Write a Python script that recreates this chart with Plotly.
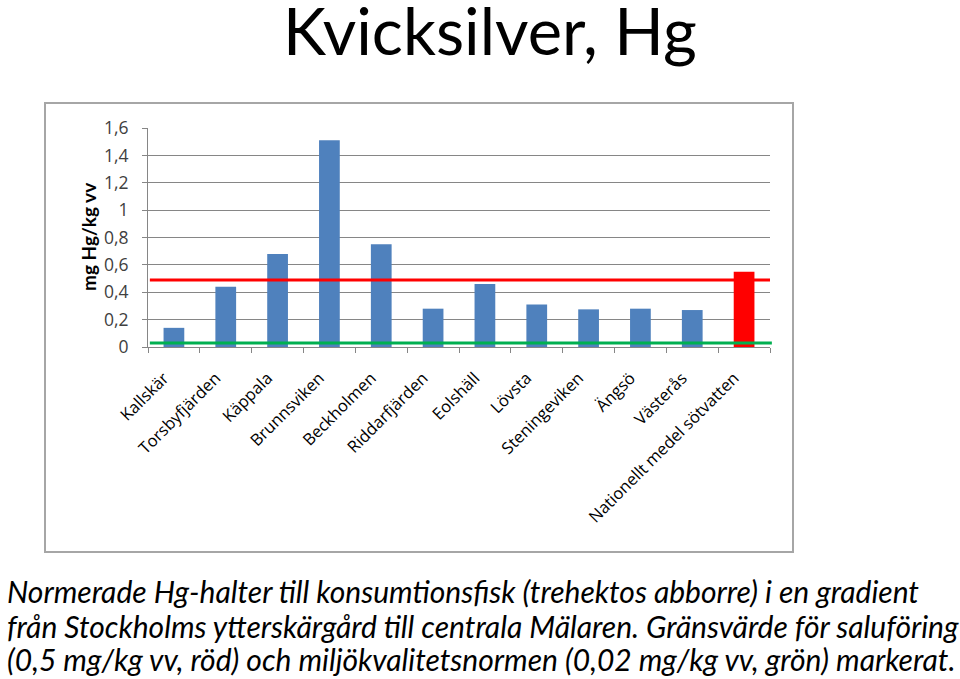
import plotly.graph_objects as go

categories = ["Kallskär", "Torsbyfjärden", "Käppala", "Brunnsviken", "Beckholmen",
              "Riddarfjärden", "Eolshäll", "Lövsta", "Steningeviken", "Ängsö",
              "Västerås", "Nationellt medel sötvatten"]
values = [0.14, 0.44, 0.68, 1.51, 0.75, 0.28, 0.46, 0.31, 0.275, 0.28, 0.27, 0.55]
bar_colors = ["#4F81BD"] * 11 + ["#FF0000"]
limit_red = 0.49
limit_green = 0.03
y_ticks = [0, 0.2, 0.4, 0.6, 0.8, 1.0, 1.2, 1.4, 1.6]

title_text = "Kvicksilver, Hg"
y_title = "mg Hg/kg vv"
caption_lines = [
    "Normerade Hg-halter till konsumtionsfisk (trehektos abborre) i en gradient",
    "från Stockholms ytterskärgård till centrala Mälaren. Gränsvärde för saluföring",
    "(0,5 mg/kg vv, röd) och miljökvalitetsnormen (0,02 mg/kg vv, grön) markerat.",
]

W, H = 960, 679
L, R, T, B = 148, 190, 128, 332
pw, ph = W - L - R, H - T - B

def px_x(x):
    return (x - L) / pw

def px_y(y):
    return (H - B - y) / ph

fig = go.Figure()
fig.add_trace(go.Bar(x=categories, y=values, marker=dict(color=bar_colors, line=dict(width=0)),
                     width=0.4, showlegend=False, hoverinfo="x+y"))

shapes = [
    dict(type="line", xref="x domain", yref="y", x0=0.003, x1=1.0, y0=limit_red, y1=limit_red,
         line=dict(color="#FF0000", width=3), layer="above"),
    dict(type="line", xref="x domain", yref="y", x0=0.003, x1=1.003, y0=limit_green, y1=limit_green,
         line=dict(color="#00B050", width=3), layer="above"),
    dict(type="rect", xref="paper", yref="paper", x0=px_x(45), x1=px_x(793), y0=px_y(552), y1=px_y(103),
         line=dict(color="#A6A6A6", width=2), fillcolor="rgba(0,0,0,0)", layer="below"),
]

annotations = [
    dict(text=title_text, xref="paper", yref="paper", x=px_x(490), y=px_y(30), xanchor="center",
         yanchor="middle", showarrow=False, font=dict(family="Lato", size=65, color="#000000")),
    dict(text="<b>" + y_title + "</b>", xref="paper", yref="paper", x=px_x(88), y=px_y(237),
         xanchor="center", yanchor="middle", textangle=-90, showarrow=False,
         font=dict(family="Lato", size=19, color="#000000")),
]
cap_y = [591, 626, 659]
for line, yy in zip(caption_lines, cap_y):
    annotations.append(dict(text="<i>" + line + "</i>", xref="paper", yref="paper", x=px_x(5), y=px_y(yy),
                            xanchor="left", yanchor="middle", showarrow=False,
                            font=dict(family="Lato", size=30, color="#000000")))

fig.update_layout(
    width=W, height=H, margin=dict(l=L, r=R, t=T, b=B),
    paper_bgcolor="white", plot_bgcolor="white",
    separators=", ",
    bargap=0.6,
    shapes=shapes, annotations=annotations,
    xaxis=dict(type="category", tickangle=-45, ticks="outside", tickson="boundaries", ticklen=5,
               tickcolor="#868686", showline=True, linecolor="#868686", linewidth=1,
               showgrid=False, tickfont=dict(family="Open Sans", size=16.5, color="#000000"),
               ticklabelstandoff=14, ticklabelshift=-10, range=[-0.5, 11.5]),
    yaxis=dict(range=[0, 1.6], tickvals=y_ticks, ticks="outside", ticklen=5, tickcolor="#868686",
               showline=True, linecolor="#868686", linewidth=1, showgrid=True, gridcolor="#868686",
               gridwidth=1, zeroline=False, ticklabelstandoff=10,
               tickfont=dict(family="Open Sans", size=17.5, color="#404040")),
)
fig.write_html("out.html")
